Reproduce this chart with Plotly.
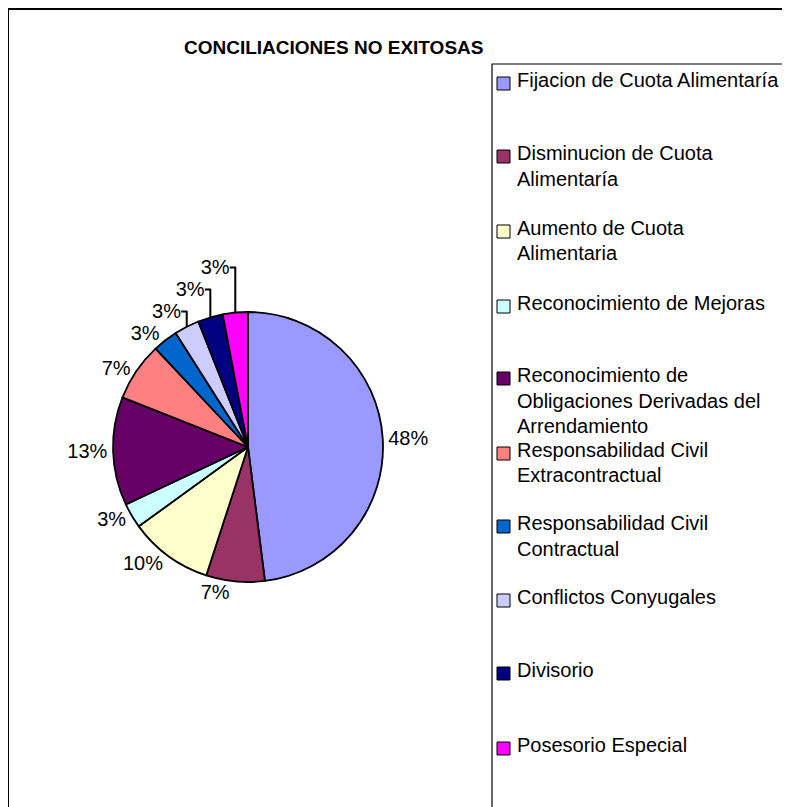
import plotly.graph_objects as go

W, H = 790, 807
OFF = 8  # the page body margin shifts the figure by 8 px

title_text = "CONCILIACIONES NO EXITOSAS"

categories = [
    "Fijacion de Cuota Alimentaría",
    "Disminucion de Cuota Alimentaría",
    "Aumento de Cuota Alimentaria",
    "Reconocimiento de Mejoras",
    "Reconocimiento de Obligaciones Derivadas del Arrendamiento",
    "Responsabilidad Civil Extracontractual",
    "Responsabilidad Civil Contractual",
    "Conflictos Conyugales",
    "Divisorio",
    "Posesorio Especial",
]
percentages = [48, 7, 10, 3, 13, 7, 3, 3, 3, 3]
colors = ["#9999FF", "#993366", "#FFFFCC", "#CCFFFF", "#660066",
          "#FF8080", "#0066CC", "#CCCCFF", "#000080", "#FF00FF"]

# how the legend wraps each category
legend_lines = [
    ["Fijacion de Cuota Alimentaría"],
    ["Disminucion de Cuota", "Alimentaría"],
    ["Aumento de Cuota", "Alimentaria"],
    ["Reconocimiento de Mejoras"],
    ["Reconocimiento de", "Obligaciones Derivadas del", "Arrendamiento"],
    ["Responsabilidad Civil", "Extracontractual"],
    ["Responsabilidad Civil", "Contractual"],
    ["Conflictos Conyugales"],
    ["Divisorio"],
    ["Posesorio Especial"],
]
legend_y = [80, 153, 228, 303, 375, 450, 523, 597, 670, 745]


def px(x):
    return (x - OFF) / W


def py(y):
    return 1 - (y - OFF) / H


FONT = "Liberation Sans, Arial, sans-serif"

cx, cy, r = 248, 447, 135

fig = go.Figure(go.Pie(
    labels=categories,
    values=percentages,
    sort=False,
    direction="clockwise",
    rotation=0,
    marker=dict(colors=colors, line=dict(color="black", width=1.8)),
    texttemplate="%{value}%",
    textposition="outside",
    textfont=dict(family=FONT, size=20, color="black"),
    domain=dict(x=[px(cx - r), px(cx + r)], y=[py(cy + r), py(cy - r)]),
    showlegend=False,
    hoverinfo="label+percent",
))

shapes = [
    # outer chart frame
    dict(type="rect", xref="paper", yref="paper",
         x0=px(8), x1=px(W + 20), y0=py(H + 20), y1=py(9),
         line=dict(color="black", width=2)),
    # legend box
    dict(type="rect", xref="paper", yref="paper",
         x0=px(492), x1=px(W + 20), y0=py(H + 20), y1=py(64),
         line=dict(color="black", width=1.2)),
]
annotations = [
    dict(text="<b>" + title_text + "</b>", xref="paper", yref="paper",
         x=px(333), y=py(48), xanchor="center", yanchor="middle",
         showarrow=False,
         font=dict(family=FONT, size=19, color="black")),
]

for lines, y0, col in zip(legend_lines, legend_y, colors):
    shapes.append(dict(type="rect", xref="paper", yref="paper",
                       x0=px(497), x1=px(510), y0=py(y0 + 10), y1=py(y0 - 3),
                       fillcolor=col, line=dict(color="black", width=1)))
    for k, line in enumerate(lines):
        annotations.append(dict(
            text=line, xref="paper", yref="paper",
            x=px(515), y=py(y0 + k * 25.5), xanchor="left", yanchor="middle",
            showarrow=False, font=dict(family=FONT, size=20, color="black")))

fig.update_layout(
    width=W, height=H,
    margin=dict(l=0, r=0, t=0, b=0),
    paper_bgcolor="white",
    plot_bgcolor="white",
    shapes=shapes,
    annotations=annotations,
)

fig.write_html("out.html")
